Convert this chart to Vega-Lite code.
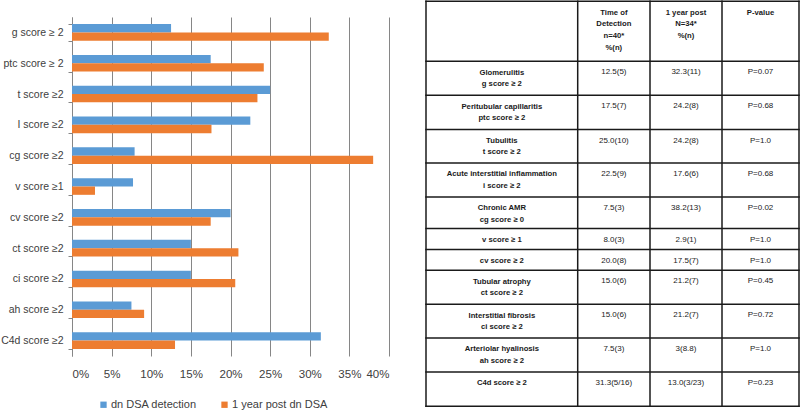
{
  "$schema": "https://vega.github.io/schema/vega-lite/v6.json",
  "padding": 0,
  "spacing": 35,
  "config": {
    "view": {"stroke": null},
    "font": "Liberation Sans"
  },
  "datasets": {
    "bars": [
      {"category": "g score ≥ 2", "series": "dn DSA detection", "value": 12.5},
      {"category": "g score ≥ 2", "series": "1 year post dn DSA", "value": 32.4},
      {"category": "ptc score ≥ 2", "series": "dn DSA detection", "value": 17.5},
      {"category": "ptc score ≥ 2", "series": "1 year post dn DSA", "value": 24.2},
      {"category": "t score ≥2", "series": "dn DSA detection", "value": 25.0},
      {"category": "t score ≥2", "series": "1 year post dn DSA", "value": 23.4},
      {"category": "I score ≥2", "series": "dn DSA detection", "value": 22.5},
      {"category": "I score ≥2", "series": "1 year post dn DSA", "value": 17.6},
      {"category": "cg score ≥2", "series": "dn DSA detection", "value": 7.9},
      {"category": "cg score ≥2", "series": "1 year post dn DSA", "value": 38.0},
      {"category": "v score ≥1", "series": "dn DSA detection", "value": 7.7},
      {"category": "v score ≥1", "series": "1 year post dn DSA", "value": 2.9},
      {"category": "cv score ≥2", "series": "dn DSA detection", "value": 20.0},
      {"category": "cv score ≥2", "series": "1 year post dn DSA", "value": 17.5},
      {"category": "ct score ≥2", "series": "dn DSA detection", "value": 15.0},
      {"category": "ct score ≥2", "series": "1 year post dn DSA", "value": 21.0},
      {"category": "ci score ≥2", "series": "dn DSA detection", "value": 15.0},
      {"category": "ci score ≥2", "series": "1 year post dn DSA", "value": 20.6},
      {"category": "ah score ≥2", "series": "dn DSA detection", "value": 7.5},
      {"category": "ah score ≥2", "series": "1 year post dn DSA", "value": 9.1},
      {"category": "C4d score ≥2", "series": "dn DSA detection", "value": 31.4},
      {"category": "C4d score ≥2", "series": "1 year post dn DSA", "value": 13.0}
    ],
    "cells": [
      {"row": 0, "col": 1, "text": "Time of\nDetection\nn=40*\n%(n)"},
      {"row": 0, "col": 2, "text": "1 year post\nN=34*\n%(n)"},
      {"row": 0, "col": 3, "text": "P-value"},
      {"row": 1, "col": 0, "text": "Glomerulitis\ng score ≥ 2"},
      {"row": 1, "col": 1, "text": "12.5(5)"},
      {"row": 1, "col": 2, "text": "32.3(11)"},
      {"row": 1, "col": 3, "text": "P=0.07"},
      {"row": 2, "col": 0, "text": "Peritubular capillaritis\nptc score ≥ 2"},
      {"row": 2, "col": 1, "text": "17.5(7)"},
      {"row": 2, "col": 2, "text": "24.2(8)"},
      {"row": 2, "col": 3, "text": "P=0.68"},
      {"row": 3, "col": 0, "text": "Tubulitis\nt score ≥ 2"},
      {"row": 3, "col": 1, "text": "25.0(10)"},
      {"row": 3, "col": 2, "text": "24.2(8)"},
      {"row": 3, "col": 3, "text": "P=1.0"},
      {"row": 4, "col": 0, "text": "Acute interstitial inflammation\ni score ≥ 2"},
      {"row": 4, "col": 1, "text": "22.5(9)"},
      {"row": 4, "col": 2, "text": "17.6(6)"},
      {"row": 4, "col": 3, "text": "P=0.68"},
      {"row": 5, "col": 0, "text": "Chronic AMR\ncg score ≥ 0"},
      {"row": 5, "col": 1, "text": "7.5(3)"},
      {"row": 5, "col": 2, "text": "38.2(13)"},
      {"row": 5, "col": 3, "text": "P=0.02"},
      {"row": 6, "col": 0, "text": "v score ≥ 1"},
      {"row": 6, "col": 1, "text": "8.0(3)"},
      {"row": 6, "col": 2, "text": "2.9(1)"},
      {"row": 6, "col": 3, "text": "P=1.0"},
      {"row": 7, "col": 0, "text": "cv score ≥ 2"},
      {"row": 7, "col": 1, "text": "20.0(8)"},
      {"row": 7, "col": 2, "text": "17.5(7)"},
      {"row": 7, "col": 3, "text": "P=1.0"},
      {"row": 8, "col": 0, "text": "Tubular atrophy\nct score ≥ 2"},
      {"row": 8, "col": 1, "text": "15.0(6)"},
      {"row": 8, "col": 2, "text": "21.2(7)"},
      {"row": 8, "col": 3, "text": "P=0.45"},
      {"row": 9, "col": 0, "text": "Interstitial fibrosis\nci score ≥ 2"},
      {"row": 9, "col": 1, "text": "15.0(6)"},
      {"row": 9, "col": 2, "text": "21.2(7)"},
      {"row": 9, "col": 3, "text": "P=0.72"},
      {"row": 10, "col": 0, "text": "Arteriolar hyalinosis\nah score ≥ 2"},
      {"row": 10, "col": 1, "text": "7.5(3)"},
      {"row": 10, "col": 2, "text": "3(8.8)"},
      {"row": 10, "col": 3, "text": "P=1.0"},
      {"row": 11, "col": 0, "text": "C4d score ≥ 2"},
      {"row": 11, "col": 1, "text": "31.3(5/16)"},
      {"row": 11, "col": 2, "text": "13.0(3/23)"},
      {"row": 11, "col": 3, "text": "P=0.23"}
    ],
    "tableRows": [
      {"row": 0, "top": 0, "bottom": 60},
      {"row": 1, "top": 60, "bottom": 94},
      {"row": 2, "top": 94, "bottom": 128.3},
      {"row": 3, "top": 128.3, "bottom": 161.7},
      {"row": 4, "top": 161.7, "bottom": 195.7},
      {"row": 5, "top": 195.7, "bottom": 227.3},
      {"row": 6, "top": 227.3, "bottom": 248.3},
      {"row": 7, "top": 248.3, "bottom": 269},
      {"row": 8, "top": 269, "bottom": 303},
      {"row": 9, "top": 303, "bottom": 336.7},
      {"row": 10, "top": 336.7, "bottom": 370.7},
      {"row": 11, "top": 370.7, "bottom": 405}
    ],
    "tableCols": [
      {"col": 0, "left": 0, "right": 151.7},
      {"col": 1, "left": 151.7, "right": 224},
      {"col": 2, "left": 224, "right": 296},
      {"col": 3, "left": 296, "right": 373}
    ]
  },
  "resolve": {"scale": {"color": "independent"}, "legend": {"color": "independent"}},
  "hconcat": [
    {
      "width": 317,
      "height": 339,
      "data": {"name": "bars"},
      "mark": {"type": "bar"},
      "encoding": {
        "y": {
          "field": "category",
          "type": "nominal",
          "sort": ["g score ≥ 2", "ptc score ≥ 2", "t score ≥2", "I score ≥2", "cg score ≥2", "v score ≥1", "cv score ≥2", "ct score ≥2", "ci score ≥2", "ah score ≥2", "C4d score ≥2"],
          "scale": {"paddingInner": 0.46, "paddingOuter": 0.23},
          "axis": {
            "title": null,
            "tickBand": "extent",
            "labelFontSize": 10.5,
            "labelColor": "#404040",
            "domainColor": "#868686",
            "tickColor": "#868686",
            "tickSize": 4,
            "labelPadding": 5
          }
        },
        "yOffset": {"field": "series", "sort": ["dn DSA detection", "1 year post dn DSA"]},
        "x": {
          "field": "value",
          "type": "quantitative",
          "scale": {"domain": [0, 40], "nice": false},
          "axis": {
            "title": null,
            "values": [0, 5, 10, 15, 20, 25, 30, 35, 40],
            "labelExpr": "datum.value + '%'",
            "grid": true,
            "gridColor": "#868686",
            "gridOpacity": 1,
            "domain": false,
            "ticks": false,
            "labelFontSize": 11.5,
            "labelColor": "#404040",
            "labelPadding": 12
          }
        },
        "color": {
          "field": "series",
          "type": "nominal",
          "scale": {"domain": ["dn DSA detection", "1 year post dn DSA"], "range": ["#5B9BD5", "#ED7D31"]},
          "legend": {
            "title": null,
            "orient": "none",
            "legendX": 26,
            "legendY": 382,
            "direction": "horizontal",
            "symbolType": "square",
            "symbolSize": 40,
            "symbolStrokeWidth": 0,
            "labelFontSize": 11,
            "labelColor": "#404040",
            "columnPadding": 22,
            "labelOffset": 2
          }
        }
      }
    },
    {
      "width": 373,
      "height": 339,
      "layer": [
        {
          "data": {"name": "tableRows"},
          "mark": {"type": "rule", "color": "#1a1a1a", "strokeWidth": 1.5, "strokeCap": "square"},
          "encoding": {
            "y": {"field": "top", "type": "quantitative", "scale": {"domain": [15.7, 354.7], "reverse": true, "nice": false, "zero": false}, "axis": null},
            "x": {"datum": 0, "type": "quantitative", "scale": {"domain": [0, 373], "nice": false, "zero": false}, "axis": null},
            "x2": {"datum": 373}
          }
        },
        {
          "data": {"name": "tableRows"},
          "transform": [{"filter": "datum.row == 11"}],
          "mark": {"type": "rule", "color": "#1a1a1a", "strokeWidth": 1.5, "strokeCap": "square"},
          "encoding": {
            "y": {"field": "bottom", "type": "quantitative"},
            "x": {"datum": 0, "type": "quantitative"},
            "x2": {"datum": 373}
          }
        },
        {
          "data": {"name": "tableCols"},
          "mark": {"type": "rule", "color": "#1a1a1a", "strokeWidth": 1.5, "strokeCap": "square"},
          "encoding": {
            "x": {"field": "left", "type": "quantitative"},
            "y": {"datum": 0, "type": "quantitative"},
            "y2": {"datum": 405}
          }
        },
        {
          "data": {"name": "tableCols"},
          "transform": [{"filter": "datum.col == 3"}],
          "mark": {"type": "rule", "color": "#1a1a1a", "strokeWidth": 1.5, "strokeCap": "square"},
          "encoding": {
            "x": {"field": "right", "type": "quantitative"},
            "y": {"datum": 0, "type": "quantitative"},
            "y2": {"datum": 405}
          }
        },
        {
          "data": {"name": "cells"},
          "transform": [
            {"filter": "datum.row == 0 || datum.col == 0"},
            {"lookup": "row", "from": {"data": {"name": "tableRows"}, "key": "row", "fields": ["top"]}},
            {"lookup": "col", "from": {"data": {"name": "tableCols"}, "key": "col", "fields": ["left", "right"]}},
            {"calculate": "(datum.left + datum.right) / 2", "as": "mid"}
          ],
          "mark": {"type": "text", "fontWeight": "bold", "fontSize": 7.7, "lineHeight": 11.7, "lineBreak": "\n", "baseline": "top", "align": "center", "dy": 7.2, "color": "#1a1a1a"},
          "encoding": {
            "x": {"field": "mid", "type": "quantitative"},
            "y": {"field": "top", "type": "quantitative"},
            "text": {"field": "text"}
          }
        },
        {
          "data": {"name": "cells"},
          "transform": [
            {"filter": "datum.row > 0 && datum.col > 0"},
            {"lookup": "row", "from": {"data": {"name": "tableRows"}, "key": "row", "fields": ["top"]}},
            {"lookup": "col", "from": {"data": {"name": "tableCols"}, "key": "col", "fields": ["left", "right"]}},
            {"calculate": "(datum.left + datum.right) / 2", "as": "mid"}
          ],
          "mark": {"type": "text", "fontSize": 8, "lineHeight": 11.7, "lineBreak": "\n", "baseline": "top", "align": "center", "dy": 7, "color": "#1a1a1a"},
          "encoding": {
            "x": {"field": "mid", "type": "quantitative"},
            "y": {"field": "top", "type": "quantitative"},
            "text": {"field": "text"}
          }
        }
      ]
    }
  ]
}
